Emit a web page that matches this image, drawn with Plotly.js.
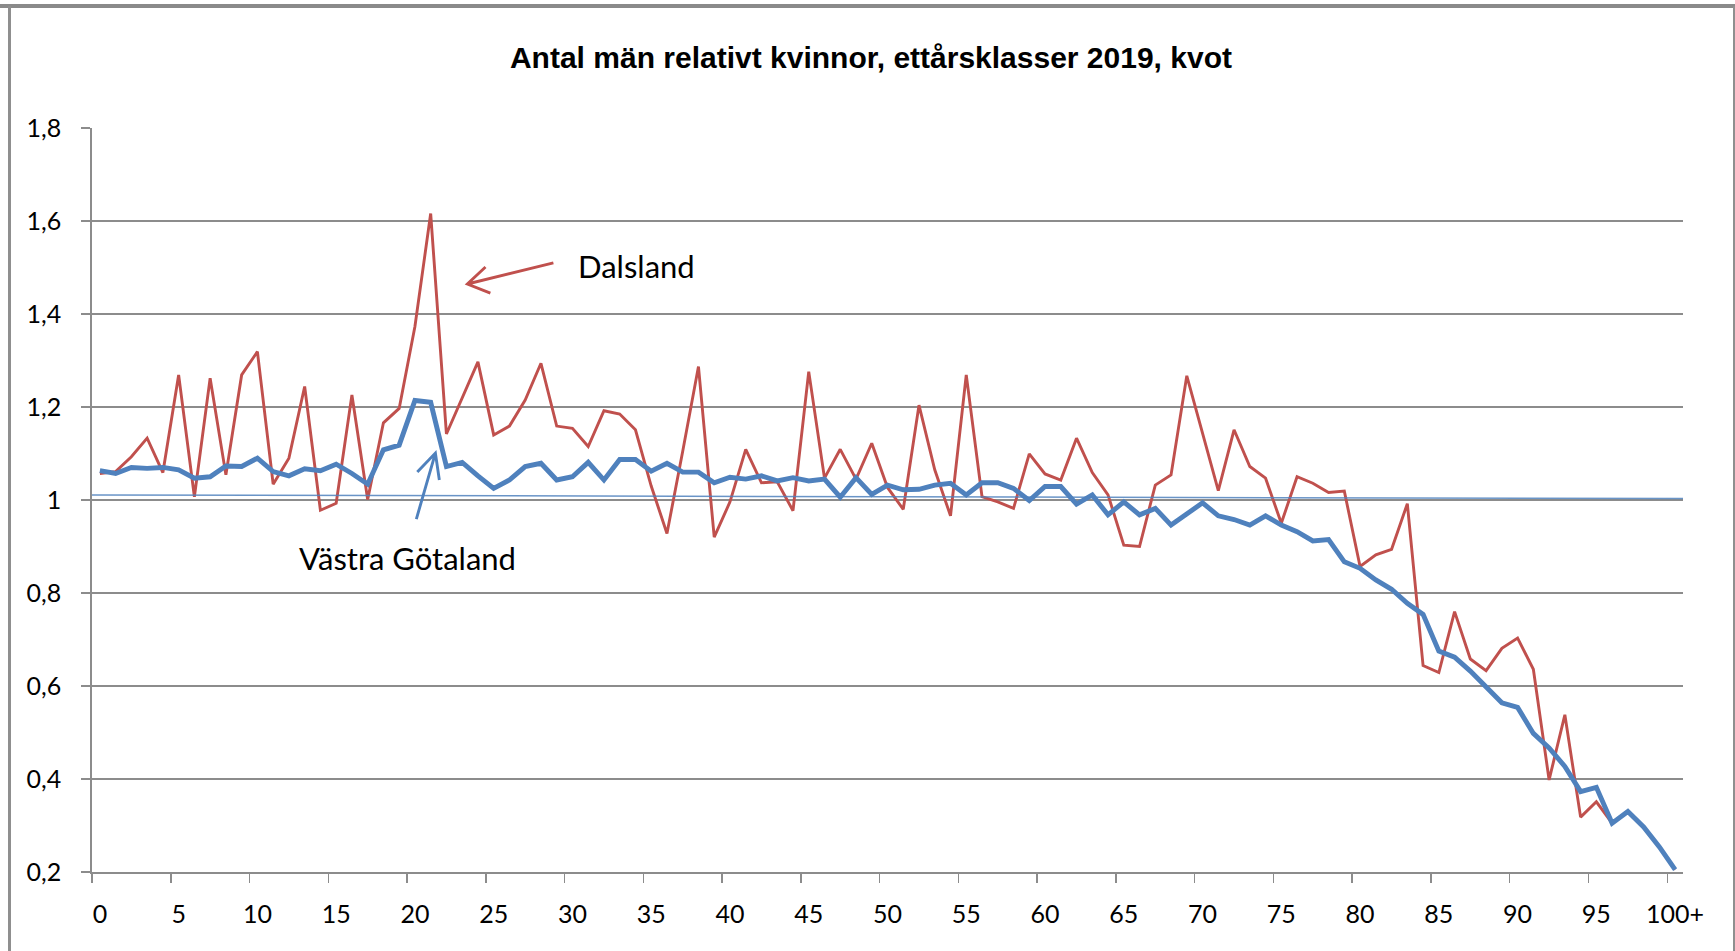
<!DOCTYPE html>
<html>
<head>
<meta charset="utf-8">
<script src="https://cdn.plot.ly/plotly-3.0.1.min.js"></script>
<style>
  html, body { margin: 0; padding: 0; background: #ffffff; }
  #chart { position: absolute; left: 0; top: 0; width: 1735px; height: 951px; }
  #topbar { position: absolute; left: 0; top: 4px; width: 1735px; height: 4px; background: #8a8a8a; pointer-events: none; }
  #frame { position: absolute; left: 8px; top: 6px; width: 1722px; height: 1000px; border-left: 3px solid #8f8f8f; border-right: 3px solid #8f8f8f; pointer-events: none; }
</style>
</head>
<body>
<div id="chart"></div>
<div id="topbar"></div>
<div id="frame"></div>
<script>
// Age classes 0 .. 100+
const ages = Array.from({length: 101}, (_, i) => i);
const xTickVals = [0, 5, 10, 15, 20, 25, 30, 35, 40, 45, 50, 55, 60, 65, 70, 75, 80, 85, 90, 95, 100];
const xTickText = ['0','5','10','15','20','25','30','35','40','45','50','55','60','65','70','75','80','85','90','95','100+'];
const xBoundaryTicks = [-0.5, 4.5, 9.5, 14.5, 19.5, 24.5, 29.5, 34.5, 39.5, 44.5, 49.5, 54.5, 59.5, 64.5, 69.5, 74.5, 79.5, 84.5, 89.5, 94.5, 99.5];
const yTickVals = [0.2, 0.4, 0.6, 0.8, 1.0, 1.2, 1.4, 1.6, 1.8];
const yTickText = ['0,2', '0,4', '0,6', '0,8', '1', '1,2', '1,4', '1,6', '1,8'];

// Dalsland: men per woman by one-year age class, 2019
const dalsland = [
  1.057, 1.061, 1.093, 1.133, 1.059, 1.269, 1.007, 1.262, 1.054, 1.269,
  1.319, 1.034, 1.090, 1.244, 0.978, 0.993, 1.226, 1.001, 1.166, 1.197,
  1.373, 1.616, 1.142, 1.220, 1.297, 1.140, 1.159, 1.215, 1.294, 1.159,
  1.154, 1.115, 1.192, 1.185, 1.151, 1.030, 0.928, 1.105, 1.287, 0.920,
  0.996, 1.109, 1.037, 1.039, 0.977, 1.276, 1.047, 1.109, 1.045, 1.122,
  1.027, 0.980, 1.204, 1.065, 0.966, 1.269, 1.007, 0.996, 0.982, 1.099,
  1.056, 1.043, 1.133, 1.059, 1.011, 0.903, 0.900, 1.032, 1.054, 1.267,
  1.143, 1.020, 1.151, 1.072, 1.047, 0.950, 1.050, 1.036, 1.016, 1.019,
  0.857, 0.882, 0.894, 0.992, 0.644, 0.629, 0.760, 0.658, 0.633, 0.681,
  0.703, 0.636, 0.398, 0.538, 0.318, 0.351, 0.305, 0.330, 0.297, 0.254,
  0.205
];

// Västra Götaland
const vastraGotaland = [
  1.063, 1.057, 1.070, 1.068, 1.070, 1.065, 1.047, 1.050, 1.073, 1.072,
  1.090, 1.061, 1.052, 1.067, 1.063, 1.077, 1.057, 1.034, 1.108, 1.118,
  1.214, 1.210, 1.072, 1.081, 1.052, 1.025, 1.043, 1.072, 1.079, 1.043,
  1.050, 1.081, 1.043, 1.087, 1.087, 1.062, 1.079, 1.060, 1.060, 1.037,
  1.049, 1.045, 1.052, 1.041, 1.048, 1.041, 1.045, 1.006, 1.048, 1.012,
  1.032, 1.022, 1.023, 1.032, 1.036, 1.011, 1.037, 1.037, 1.025, 0.999,
  1.029, 1.029, 0.991, 1.011, 0.968, 0.996, 0.968, 0.982, 0.946, 0.971,
  0.994, 0.966, 0.958, 0.946, 0.966, 0.946, 0.932, 0.912, 0.915, 0.867,
  0.853, 0.828, 0.808, 0.778, 0.754, 0.675, 0.662, 0.632, 0.599, 0.564,
  0.554, 0.498, 0.467, 0.427, 0.373, 0.382, 0.305, 0.330, 0.297, 0.254,
  0.205
];

// Thin reference line near 1
const refX = [-0.5, 100.5];
const refY = [1.011, 1.003];

// Hand-drawn arrows (tail, tip, wing1, wing2) in axis units
const dalslandArrowX = [28.79, 23.33, 24.48, 24.79];
const dalslandArrowY = [1.510, 1.4645, 1.501, 1.445];
const vgArrowX = [20.09, 21.30, 20.15, 21.55];
const vgArrowY = [0.959, 1.101, 1.060, 1.043];

function arrowPath(xs, ys) {
  return 'M ' + xs[0] + ',' + ys[0] + ' L ' + xs[1] + ',' + ys[1] +
         ' M ' + xs[2] + ',' + ys[2] + ' L ' + xs[1] + ',' + ys[1] +
         ' L ' + xs[3] + ',' + ys[3];
}

const RED = '#C0504D';
const BLUE = '#4F81BD';
const GRID = '#8c8c8c';
const FONT = 'Lato, "Open Sans", sans-serif';

const traces = [
  { x: refX, y: refY, xaxis: 'x2', yaxis: 'y', mode: 'lines', type: 'scatter',
    line: { color: BLUE, width: 1.5 }, opacity: 0.85, hoverinfo: 'skip', showlegend: false },
  { x: ages, y: dalsland, mode: 'lines', type: 'scatter', name: 'Dalsland',
    line: { color: RED, width: 2.9 }, showlegend: false },
  { x: ages, y: vastraGotaland, mode: 'lines', type: 'scatter', name: 'Västra Götaland',
    line: { color: BLUE, width: 4.9 }, showlegend: false }
];

const layout = {
  width: 1735, height: 951,
  paper_bgcolor: '#ffffff', plot_bgcolor: '#ffffff',
  margin: { l: 92, r: 52, t: 128, b: 79, pad: 0 },
  showlegend: false,
  title: {
    text: 'Antal män relativt kvinnor, ettårsklasser 2019, kvot',
    font: { family: '"Liberation Sans Narrow", "Arial Narrow", sans-serif', size: 30, color: '#000000', weight: 'bold' },
    x: 0.502, xanchor: 'center', xref: 'container',
    y: 0.94, yanchor: 'middle', yref: 'container'
  },
  xaxis: {
    range: [-0.5, 100.5], tickmode: 'array', tickvals: xTickVals, ticktext: xTickText,
    ticks: '', showgrid: false, zeroline: false,
    showline: true, linecolor: GRID, linewidth: 1.8,
    tickfont: { family: FONT, size: 25, color: '#000000' },
    ticklabelstandoff: 19, fixedrange: true
  },
  xaxis2: {
    range: [-0.5, 100.5], overlaying: 'x', side: 'bottom', anchor: 'y',
    tickmode: 'array', tickvals: xBoundaryTicks, showticklabels: false,
    ticks: 'outside', ticklen: 10, tickcolor: GRID, tickwidth: 1.5,
    showgrid: false, zeroline: false, showline: false, fixedrange: true
  },
  yaxis: {
    range: [0.2, 1.8], tickmode: 'array', tickvals: yTickVals, ticktext: yTickText,
    showgrid: true, gridcolor: GRID, gridwidth: 1.8, zeroline: false,
    showline: true, linecolor: GRID, linewidth: 1.8,
    ticks: 'outside', ticklen: 9, tickcolor: GRID, tickwidth: 1.5,
    tickfont: { family: FONT, size: 25, color: '#000000' },
    ticklabelstandoff: 15, fixedrange: true
  },
  shapes: [
    { type: 'path', xref: 'x', yref: 'y', path: arrowPath(dalslandArrowX, dalslandArrowY),
      line: { color: RED, width: 2.9 } },
    { type: 'path', xref: 'x', yref: 'y', path: arrowPath(vgArrowX, vgArrowY),
      line: { color: BLUE, width: 2.9 } }
  ],
  annotations: [
    { x: 34.06, y: 1.504, xref: 'x', yref: 'y', text: 'Dalsland', showarrow: false,
      xanchor: 'center', yanchor: 'middle', font: { family: FONT, size: 31, color: '#000000' } },
    { x: 19.52, y: 0.875, xref: 'x', yref: 'y', text: 'Västra Götaland', showarrow: false,
      xanchor: 'center', yanchor: 'middle', font: { family: FONT, size: 31, color: '#000000' } }
  ]
};

Plotly.newPlot('chart', traces, layout, { displayModeBar: false, staticPlot: true });
</script>
</body>
</html>
